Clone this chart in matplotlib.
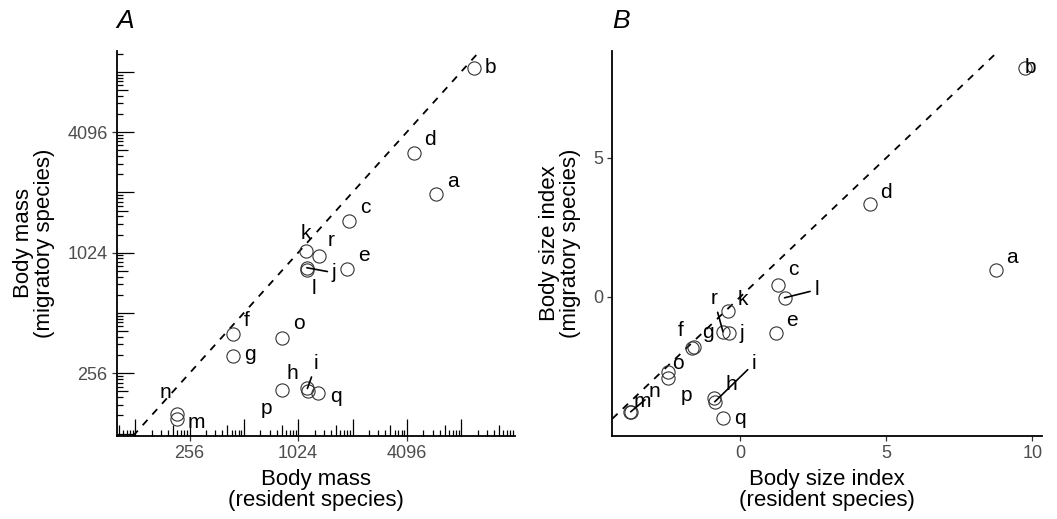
import numpy as np
import matplotlib
matplotlib.use("Agg")
import matplotlib.pyplot as plt
from matplotlib import transforms
from matplotlib.ticker import FixedLocator, NullLocator

plt.rcParams['font.family'] = ['Liberation Sans', 'DejaVu Sans']

species = ['a', 'b', 'c', 'd', 'e', 'f', 'g', 'h', 'i',
           'j', 'k', 'l', 'm', 'n', 'o', 'p', 'q', 'r']

# panel A: body mass (resident vs migratory)
mass_res = [5954, 9675, 1965, 4482, 1898, 446, 446, 1160, 1152,
            1144, 1136, 1144, 217, 217, 838, 838, 1323, 1333]
mass_mig = [2006, 8598, 1479, 3214, 849, 402, 311, 209, 215,
            861, 1045, 843, 152, 160, 385, 211, 205, 982]

# panel B: body size index (resident vs migratory)
index_res = [8.74, 9.75, 1.28, 4.45, 1.23, -1.66, -1.60, -0.92, -0.88,
             -0.38, -0.41, 1.51, -3.78, -3.76, -2.47, -2.47, -0.61, -0.60]
index_mig = [0.96, 8.24, 0.42, 3.32, -1.32, -1.86, -1.82, -3.63, -3.78,
             -1.32, -0.51, -0.04, -4.16, -4.14, -2.70, -2.94, -4.37, -1.26]

mass_ticks = [256, 1024, 4096]
index_xticks = [0, 5, 10]
index_yticks = [0, 5]

# label offsets in pixels (dx, dy), and whether a segment is drawn
off_a = {'a': (17, 13), 'b': (16, 0), 'c': (16, 13), 'd': (16, 14), 'e': (17, 13),
         'f': (14, 13), 'g': (17, 2), 'h': (-16, 17), 'i': (9, 25), 'j': (27, -5),
         'k': (0, 17), 'l': (7, -19), 'm': (20, -4), 'n': (-11, 22), 'o': (16, 14),
         'p': (-16, -18), 'q': (18, -4), 'r': (12, 16)}
seg_a = ['i', 'j']
off_b = {'a': (16, 12), 'b': (5, 0), 'c': (15, 16), 'd': (16, 12), 'e': (16, 13),
         'f': (-11, 18), 'g': (14, 15), 'h': (18, 13), 'i': (39, 38), 'j': (12, 0),
         'k': (14, 11), 'l': (32, 8), 'm': (12, 11), 'n': (24, 20), 'o': (10, 8),
         'p': (18, -17), 'q': (17, 0), 'r': (-9, 33)}
seg_b = ['i', 'l', 'r', 'n']

fig = plt.figure(figsize=(10.57, 5.19), dpi=100)
axA = fig.add_axes([0.1104, 0.160, 0.3768, 0.7424])
axB = fig.add_axes([0.5793, 0.160, 0.4065, 0.7424])


def style(ax):
    for s in ['top', 'right']:
        ax.spines[s].set_visible(False)
    for s in ['left', 'bottom']:
        ax.spines[s].set_linewidth(1.3)
        ax.spines[s].set_color('black')
    ax.tick_params(axis='both', which='major', direction='out', length=3.5,
                   width=0.9, color='#333333', labelsize=13,
                   labelcolor='#4D4D4D', pad=3)
    ax.tick_params(which='minor', length=0)


def label_points(ax, xs, ys, offs, segs):
    for name, x, y in zip(species, xs, ys):
        dx, dy = offs[name]
        if name in segs:
            ax.annotate(name, (x, y), xytext=(dx, dy), textcoords='offset pixels',
                        ha='center', va='center', fontsize=15,
                        arrowprops=dict(arrowstyle='-', color='black', lw=1.2,
                                        shrinkA=1, shrinkB=0))
        else:
            ax.annotate(name, (x, y), xytext=(dx, dy), textcoords='offset pixels',
                        ha='center', va='center', fontsize=15)


def axis_titles(ax, xl, yl, t):
    ax.set_xlabel(xl, fontsize=16, labelpad=5, linespacing=1.0)
    ax.set_ylabel(yl, fontsize=16, labelpad=9, linespacing=1.0)
    ax.set_title(t, loc='left', fontsize=19, fontstyle='italic', pad=16)


# ---- panel A
ax = axA
style(ax)
ax.set_xscale('log', base=2)
ax.set_yscale('log', base=2)
xlo, xhi = 6.66, 13.99
ylo, yhi = 6.96, 13.35
ax.set_xlim(2 ** xlo, 2 ** xhi)
ax.set_ylim(2 ** ylo, 2 ** yhi)
ax.axline((256, 256), (1024, 1024), color='black', lw=1.3, ls=(0, (4, 4)))
ax.plot(mass_res, mass_mig, 'o', ms=9.5, mfc='none', mec='#333333', mew=0.8)
label_points(ax, mass_res, mass_mig, off_a, seg_a)
ax.xaxis.set_major_locator(FixedLocator(mass_ticks))
ax.yaxis.set_major_locator(FixedLocator(mass_ticks))
ax.xaxis.set_minor_locator(NullLocator())
ax.yaxis.set_minor_locator(NullLocator())
ax.set_xticklabels([str(t) for t in mass_ticks])
ax.set_yticklabels([str(t) for t in mass_ticks])

# inner log ticks on both axes (one "decade" of ticks per doubling)
tx = transforms.blended_transform_factory(ax.transData, ax.transAxes)
ty = transforms.blended_transform_factory(ax.transAxes, ax.transData)
ax_w = 0.3768 * 1057
ax_h = 0.7424 * 519
for n in range(5, 15):
    for k in range(1, 10):
        v = 2 ** (n + np.log10(k))
        ln = 17 if k == 1 else (11 if k == 5 else 6)
        if 2 ** xlo <= v <= 2 ** xhi:
            ax.plot([v, v], [0, ln / ax_h], transform=tx, color='black',
                    lw=0.9, clip_on=False, solid_capstyle='butt')
        if 2 ** ylo <= v <= 2 ** yhi:
            ax.plot([0, ln / ax_w], [v, v], transform=ty, color='black',
                    lw=0.9, clip_on=False, solid_capstyle='butt')

axis_titles(ax, 'Body mass\n(resident species)', 'Body mass\n(migratory species)', 'A')

# ---- panel B
ax = axB
style(ax)
ax.set_xlim(-4.39, 10.33)
ax.set_ylim(-5.01, 8.85)
ax.axline((0, 0), slope=1, color='black', lw=1.3, ls=(0, (4, 4)))
ax.plot(index_res, index_mig, 'o', ms=9.5, mfc='none', mec='#333333', mew=0.8)
label_points(ax, index_res, index_mig, off_b, seg_b)
ax.set_xticks(index_xticks)
ax.set_yticks(index_yticks)
axis_titles(ax, 'Body size index\n(resident species)',
            'Body size index\n(migratory species)', 'B')

fig.savefig('out.png', dpi=100)
